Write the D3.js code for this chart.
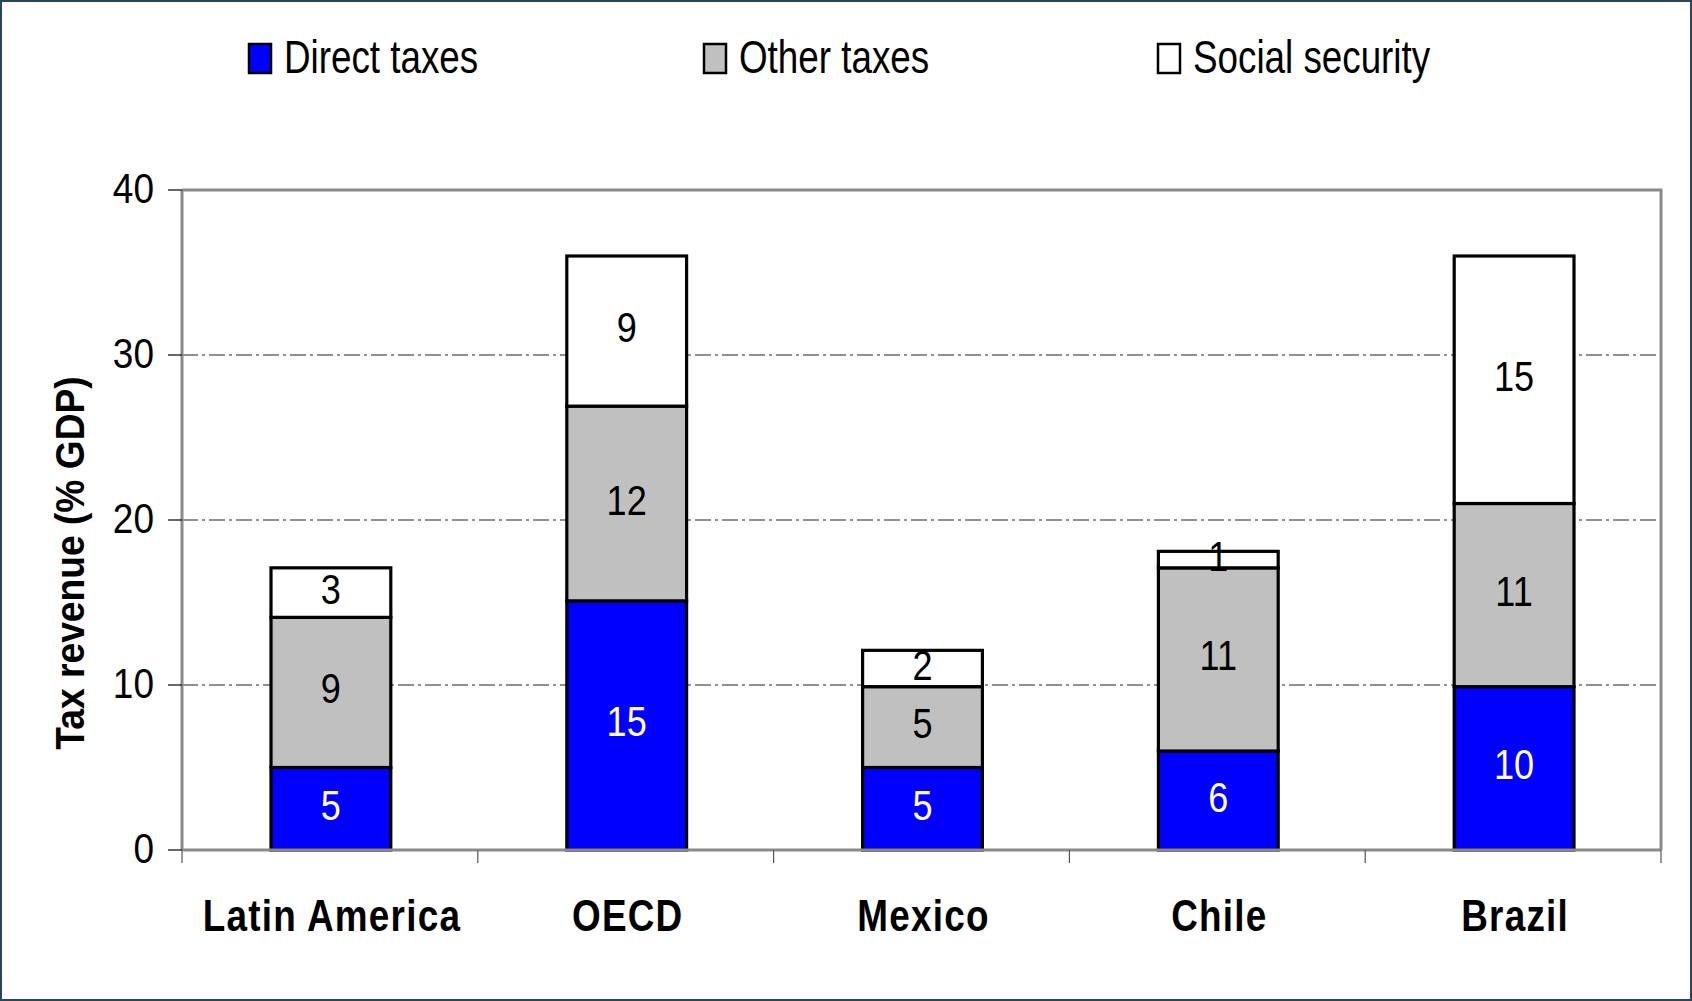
<!DOCTYPE html>
<html><head><meta charset="utf-8">
<script src="https://cdn.jsdelivr.net/npm/d3@7"></script>
<style>html,body{margin:0;padding:0;background:#fff;}svg{display:block;}</style>
</head><body>
<script>
const categories = ["Latin America", "OECD", "Mexico", "Chile", "Brazil"];
const seriesNames = ["Direct taxes", "Other taxes", "Social security"];
const directTaxes = [5.0, 15.1, 5.0, 6.0, 9.9];
const otherTaxes = [9.1, 11.8, 4.9, 11.1, 11.1];
const socialSecurity = [3.0, 9.1, 2.2, 1.0, 15.0];
const dataLabels = [[5, 9, 3], [15, 12, 9], [5, 5, 2], [6, 11, 1], [10, 11, 15]];
const yTicks = [0, 10, 20, 30, 40];
const yTitle = "Tax revenue (% GDP)";

const W = 1692, H = 1001;
const M = {left: 182, right: 1661, top: 190, bottom: 850};
const fills = ["#0000ff", "#c0c0c0", "#ffffff"];
const labelColors = ["#ffffff", "#000000", "#000000"];
const FONT = "'Liberation Sans', Arial, sans-serif";

const svg = d3.select("body").append("svg").attr("width", W).attr("height", H);
svg.append("rect").attr("x", 1).attr("y", 1).attr("width", W - 2).attr("height", H - 2)
  .attr("fill", "#fff").attr("stroke", "#2b4560").attr("stroke-width", 2);

const x = d3.scaleBand().domain(categories).range([M.left, M.right]).padding(0);
const y = d3.scaleLinear().domain([0, 40]).range([M.bottom, M.top]);
const barW = x.bandwidth() * 0.405;

function txt(parent, tx, ty, s, opts) {
  const g = parent.append("g").attr("transform", `translate(${tx},${ty})`);
  const t = g.append("text").attr("transform", `scale(${opts.sx || 1},1)`)
    .attr("text-anchor", opts.anchor || "middle")
    .attr("font-family", FONT).attr("font-size", opts.size)
    .attr("font-weight", opts.weight || "normal")
    .attr("fill", opts.fill || "#000").text(s);
  if (opts.ls) t.attr("letter-spacing", opts.ls);
  return g;
}

// gridlines
svg.append("g").selectAll("line").data(yTicks.filter(d => d > 0 && d < 40)).join("line")
  .attr("x1", M.left).attr("x2", M.right).attr("y1", d => y(d)).attr("y2", d => y(d))
  .attr("stroke", "#222").attr("stroke-width", 1.2).attr("stroke-dasharray", "16,4,3,4");

// plot frame top/right
svg.append("path").attr("d", `M${M.left},${M.top}H${M.right}V${M.bottom}`)
  .attr("fill", "none").attr("stroke", "#8a8a8a").attr("stroke-width", 3);

// stacks
const rows = categories.map((c, i) => ({cat: c, v: [directTaxes[i], otherTaxes[i], socialSecurity[i]], lab: dataLabels[i]}));
const segs = [];
rows.forEach(r => {
  let acc = 0;
  r.v.forEach((v, k) => { segs.push({cat: r.cat, k, y0: acc, y1: acc + v, lab: r.lab[k]}); acc += v; });
});
const bars = svg.append("g");
bars.selectAll("rect").data(segs).join("rect")
  .attr("x", d => x(d.cat) + (x.bandwidth() - barW) / 2 + 1)
  .attr("width", barW)
  .attr("y", d => y(d.y1)).attr("height", d => y(d.y0) - y(d.y1))
  .attr("fill", d => fills[d.k]).attr("stroke", "#000").attr("stroke-width", 3.2);

// axes
svg.append("line").attr("x1", M.left).attr("x2", M.left).attr("y1", M.top).attr("y2", M.bottom)
  .attr("stroke", "#8a8a8a").attr("stroke-width", 3);
svg.append("line").attr("x1", M.left).attr("x2", M.right).attr("y1", M.bottom).attr("y2", M.bottom)
  .attr("stroke", "#8a8a8a").attr("stroke-width", 3);

// y ticks
const yAx = svg.append("g");
yAx.selectAll("line").data(yTicks).join("line")
  .attr("x1", M.left - 14).attr("x2", M.left).attr("y1", d => y(d)).attr("y2", d => y(d))
  .attr("stroke", "#000").attr("stroke-width", 1.2);
yTicks.forEach(t => txt(yAx, 154, y(t) + 13, String(t), {size: 43, anchor: "end", sx: 0.86}));

// x ticks at band boundaries
const bounds = categories.map(c => x(c)).concat([M.right]);
svg.append("g").selectAll("line").data(bounds).join("line")
  .attr("x1", d => d).attr("x2", d => d).attr("y1", M.bottom).attr("y2", M.bottom + 13)
  .attr("stroke", "#555").attr("stroke-width", 1.2);

// category labels
categories.forEach(c => txt(svg, x(c) + x.bandwidth() / 2 + 2, 931, c, {size: 45, weight: "bold", sx: 0.82, ls: 1.5}));

// data labels
segs.forEach(d => txt(svg, x(d.cat) + x.bandwidth() / 2 + 1, y((d.y0 + d.y1) / 2) + 11, String(d.lab),
  {size: 43, sx: 0.84, fill: labelColors[d.k]}));

// y title
const yt = svg.append("g").attr("transform", "translate(84,563) rotate(-90)");
yt.append("text").attr("transform", "scale(0.93,1)").attr("text-anchor", "middle")
  .attr("font-family", FONT).attr("font-size", 40).attr("font-weight", "bold").text(yTitle);

// legend
const legX = [249, 704, 1158];
const leg = svg.append("g");
seriesNames.forEach((s, i) => {
  leg.append("rect").attr("x", legX[i]).attr("y", 44).attr("width", 22).attr("height", 29)
    .attr("fill", fills[i]).attr("stroke", "#000").attr("stroke-width", 2.5);
  txt(leg, legX[i] + 35, 73, s, {size: 46, anchor: "start", sx: 0.8});
});
</script>
</body></html>
